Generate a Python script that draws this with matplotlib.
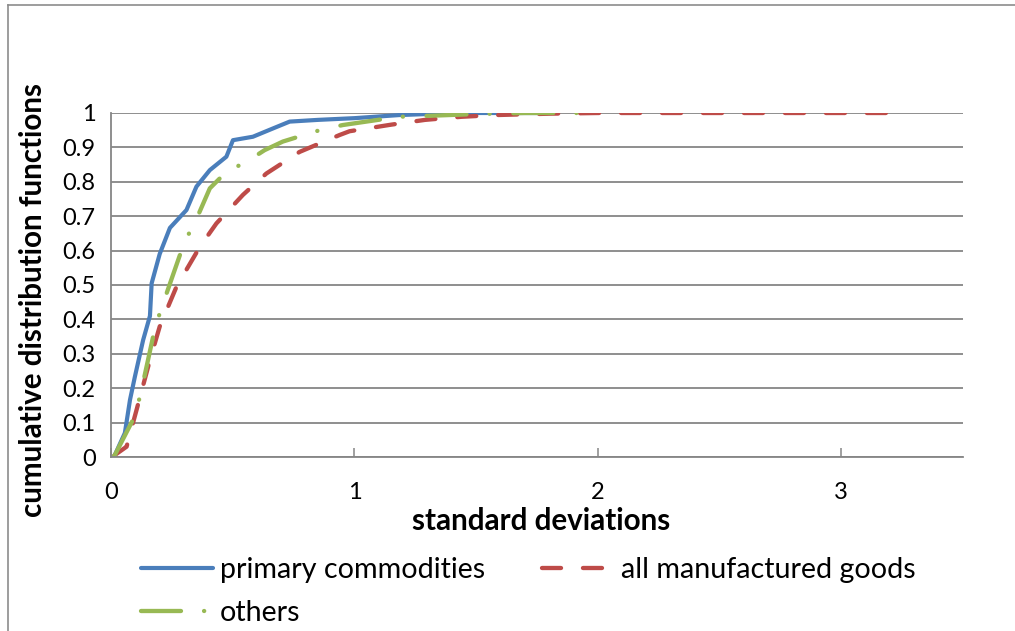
import numpy as np
import matplotlib.pyplot as plt
from matplotlib.lines import Line2D

# ---- values ----
primary_x = [0.01, 0.016, 0.057, 0.078, 0.098, 0.132, 0.16, 0.167, 0.2, 0.242, 0.31,
             0.351, 0.406, 0.474, 0.501, 0.583, 0.665, 0.734, 0.85, 1.0, 1.184, 1.3, 1.5, 1.8]
primary_y = [0.0, 0.006, 0.07, 0.166, 0.233, 0.34, 0.41, 0.505, 0.59, 0.666, 0.718,
             0.786, 0.834, 0.873, 0.921, 0.931, 0.955, 0.975, 0.98, 0.985, 0.994, 0.997, 1.0, 1.0]

manuf_x = [0.01, 0.016, 0.064, 0.105, 0.16, 0.2, 0.269, 0.365, 0.433, 0.542, 0.638,
           0.775, 0.939, 0.98, 1.15, 1.29, 1.44, 1.58, 1.8, 2.0, 3.23]
manuf_y = [0.0, 0.006, 0.03, 0.137, 0.282, 0.379, 0.495, 0.611, 0.679, 0.762, 0.824,
           0.887, 0.936, 0.947, 0.966, 0.98, 0.989, 0.994, 0.998, 1.0, 1.0]

others_x = [0.01, 0.016, 0.09, 0.119, 0.173, 0.2, 0.283, 0.317, 0.358, 0.406, 0.474,
            0.556, 0.631, 0.706, 0.857, 0.952, 1.184, 1.35, 1.5, 1.7, 1.95]
others_y = [0.0, 0.006, 0.108, 0.175, 0.35, 0.418, 0.587, 0.645, 0.703, 0.781, 0.829,
            0.858, 0.892, 0.917, 0.95, 0.965, 0.989, 0.993, 0.997, 1.0, 1.0]

labels = ["primary commodities", "all manufactured goods", "others"]
x_ticks = [0, 1, 2, 3]
y_ticks = [0, 0.1, 0.2, 0.3, 0.4, 0.5, 0.6, 0.7, 0.8, 0.9, 1]

plt.rcParams['font.family'] = ['Lato', 'DejaVu Sans']
plt.rcParams['lines.scale_dashes'] = False

grey = "#868686"
blue = "#4a7ebb"
red = "#be4b48"
green = "#98b954"

fig = plt.figure(figsize=(10.15, 6.31), dpi=100)
ax = fig.add_axes([111/1015, 1-457/631, (963-111)/1015, (457-113)/631])

ax.plot(primary_x, primary_y, color=blue, lw=3.0, solid_capstyle="round",
        solid_joinstyle="round", label=labels[0])
ax.plot(manuf_x, manuf_y, color=red, lw=3.1, dashes=(13.7, 15.8),
        dash_capstyle="round", label=labels[1])
ax.plot(others_x, others_y, color=green, lw=3.1, dashes=(28.8, 16.6, 0.1, 17),
        dash_capstyle="round", label=labels[2])

ax.set_xlim(0, 3.5)
ax.set_ylim(0, 1)
ax.set_xticks(x_ticks)
ax.set_xticklabels([str(t) for t in x_ticks])
ax.set_yticks(y_ticks)
ax.set_yticklabels([f"{t:g}" for t in y_ticks])

ax.yaxis.grid(True, color=grey, lw=1.3)
ax.set_axisbelow(True)
for s in ["top", "right"]:
    ax.spines[s].set_visible(False)
for s in ["left", "bottom"]:
    ax.spines[s].set_color(grey)
    ax.spines[s].set_linewidth(1.3)

ax.tick_params(axis="x", direction="in", length=6.5, width=1.1, color=grey,
               pad=18, labelsize=17)
ax.tick_params(axis="y", length=0, pad=11, labelsize=17)

fig.text(33/1015, 1-300/631, "cumulative distribution functions", rotation=90,
         ha="center", va="center", fontsize=21.3, fontweight="bold")
fig.text(541/1015, 1-521/631, "standard deviations", ha="center", va="center",
         fontsize=21.3, fontweight="bold")

h = ax.get_lines()
fig.legend([h[0], h[2], h[1]], [labels[0], labels[2], labels[1]], ncol=2,
           loc="upper left", bbox_to_anchor=(141/1015, 1-557/631), frameon=False,
           fontsize=20.6, handlelength=2.5, handletextpad=0.25, columnspacing=2.0,
           labelspacing=0.58, borderpad=0, borderaxespad=0)

# chart-area border (only the top and left edges fall inside the picture)
fig.add_artist(Line2D([8/1015, 1], [1-5/631, 1-5/631], color="#8c8c8c", lw=1.2))
fig.add_artist(Line2D([8/1015, 8/1015], [0, 1-5/631], color="#8c8c8c", lw=1.2))

fig.savefig("out.png", dpi=100)
